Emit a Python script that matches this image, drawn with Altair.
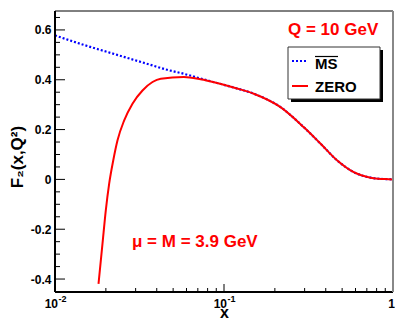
import altair as alt
import pandas as pd

# ---- data ----
ms_x = [0.01, 0.0148, 0.0233, 0.0367, 0.0461, 0.0578, 0.0726, 0.091,
        0.118, 0.15, 0.216, 0.296, 0.373, 0.468, 0.586, 0.736, 0.85, 0.944, 1.0]
ms_y = [0.578, 0.54, 0.50, 0.46, 0.44, 0.424, 0.405, 0.387,
        0.366, 0.344, 0.29, 0.21, 0.143, 0.076, 0.029, 0.007, 0.002, 0.001, 0.0]

zero_x = [0.01809, 0.0191, 0.01998, 0.02092, 0.02211, 0.02344, 0.02567, 0.02874,
          0.03294, 0.03775, 0.04227, 0.0578, 0.0726, 0.091, 0.118, 0.15, 0.216,
          0.296, 0.373, 0.468, 0.586, 0.736, 0.85, 0.944, 1.0]
zero_y = [-0.419, -0.258, -0.124, -0.017, 0.076, 0.157, 0.237, 0.304,
          0.357, 0.391, 0.404, 0.411, 0.402, 0.387, 0.366, 0.344, 0.29,
          0.21, 0.143, 0.076, 0.029, 0.007, 0.002, 0.001, 0.0]

y_major = [-0.4, -0.2, 0.0, 0.2, 0.4, 0.6]
y_minor = [-0.35, -0.3, -0.25, -0.15, -0.1, -0.05, 0.05, 0.1, 0.15,
           0.25, 0.3, 0.35, 0.45, 0.5, 0.55, 0.65]
x_major = [0.01, 0.1, 1.0]
x_minor = [0.02, 0.03, 0.04, 0.05, 0.06, 0.07, 0.08, 0.09,
           0.2, 0.3, 0.4, 0.5, 0.6, 0.7, 0.8, 0.9]
x_pow_pos = [0.01, 0.1]
x_pow_base = ["10", "10"]
x_pow_exp = ["-2", "-1"]
x_one_pos = [1.0]
x_one_lab = ["1"]

FONT = "Liberation Sans"
W, H = 338, 281

xs = alt.Scale(type="log", domain=[0.01, 1.0], nice=False)
ys = alt.Scale(domain=[-0.452, 0.676], nice=False, zero=False)

ms_df = pd.DataFrame({"x": ms_x, "y": ms_y})
zero_df = pd.DataFrame({"x": zero_x, "y": zero_y})

x_axis = alt.Axis(values=x_major, ticks=False, domain=False, grid=False, labels=False,
                  title="x", titleFont=FONT, titleFontWeight="bold", titleFontSize=16,
                  titleY=25, titleBaseline="alphabetic", titleColor="black")
y_axis = alt.Axis(values=y_major, ticks=False, domain=False, grid=False,
                  labelExpr="'' + round(datum.value * 10) / 10",
                  labelFont=FONT, labelFontWeight="bold", labelFontSize=12,
                  labelPadding=4, labelColor="black",
                  title="F₂(x,Q²)", titleFont=FONT, titleFontWeight="bold", titleFontSize=17,
                  titleX=-38, titleY=H / 2 + 5, titleAngle=270, titleAlign="center",
                  titleBaseline="middle", titleColor="black")

ms_line = alt.Chart(ms_df).mark_line(
    color="#0000ff", strokeWidth=2.2, strokeDash=[2, 2], interpolate="monotone"
).encode(x=alt.X("x:Q", scale=xs, axis=x_axis), y=alt.Y("y:Q", scale=ys, axis=y_axis))

zero_line = alt.Chart(zero_df).mark_line(
    color="#ff0000", strokeWidth=2, interpolate="monotone"
).encode(x=alt.X("x:Q", scale=xs), y=alt.Y("y:Q", scale=ys))

# x tick labels: 10^n as base + superscript, and "1"
pow_df = pd.DataFrame({"v": x_pow_pos, "base": x_pow_base, "exp": x_pow_exp})
base_txt = alt.Chart(pow_df).mark_text(align="right", baseline="alphabetic", dx=3,
                                       font=FONT, fontWeight="bold", fontSize=12,
                                       color="black").encode(
    x=alt.X("v:Q", scale=xs), y=alt.value(H + 16), text="base:N")
exp_txt = alt.Chart(pow_df).mark_text(align="left", baseline="alphabetic", dx=3.5,
                                      font=FONT, fontWeight="bold", fontSize=9,
                                      color="black").encode(
    x=alt.X("v:Q", scale=xs), y=alt.value(H + 10), text="exp:N")
one_txt = alt.Chart(pd.DataFrame({"v": x_one_pos, "t": x_one_lab})).mark_text(
    align="center", baseline="alphabetic", dx=-1.5, font=FONT, fontWeight="bold",
    fontSize=12, color="black").encode(
    x=alt.X("v:Q", scale=xs), y=alt.value(H + 16), text="t:N")

# inside ticks
ymaj = alt.Chart(pd.DataFrame({"v": y_major})).mark_rule(color="black", strokeWidth=1).encode(
    y=alt.Y("v:Q", scale=ys), x=alt.value(0), x2=alt.value(10))
ymin = alt.Chart(pd.DataFrame({"v": y_minor})).mark_rule(color="black", strokeWidth=1).encode(
    y=alt.Y("v:Q", scale=ys), x=alt.value(0), x2=alt.value(5))
xmaj = alt.Chart(pd.DataFrame({"v": x_major})).mark_rule(color="black", strokeWidth=1).encode(
    x=alt.X("v:Q", scale=xs), y=alt.value(H), y2=alt.value(H - 8))
xmin = alt.Chart(pd.DataFrame({"v": x_minor})).mark_rule(color="black", strokeWidth=1).encode(
    x=alt.X("v:Q", scale=xs), y=alt.value(H), y2=alt.value(H - 4))

# frame
frame_left = alt.Chart().mark_rule(color="black", strokeWidth=2).encode(
    x=alt.value(0), y=alt.value(0), y2=alt.value(H))
frame_bottom = alt.Chart().mark_rule(color="black", strokeWidth=2).encode(
    x=alt.value(0), x2=alt.value(W), y=alt.value(H))
frame_top = alt.Chart().mark_rule(color="black", strokeWidth=1).encode(
    x=alt.value(0), x2=alt.value(W), y=alt.value(0))
frame_right = alt.Chart().mark_rule(color="#888888", strokeWidth=2).encode(
    x=alt.value(W), y=alt.value(0), y2=alt.value(H))

# legend box with shadow
shadow = alt.Chart().mark_rect(color="black").encode(
    x=alt.value(236), x2=alt.value(328), y=alt.value(39), y2=alt.value(91))
box = alt.Chart().mark_rect(fill="white", stroke="#333333", strokeWidth=1).encode(
    x=alt.value(233), x2=alt.value(325), y=alt.value(36), y2=alt.value(88))
leg_ms = alt.Chart().mark_rule(color="#0000ff", strokeWidth=2, strokeDash=[2, 2]).encode(
    x=alt.value(237), x2=alt.value(252), y=alt.value(50))
leg_zero = alt.Chart().mark_rule(color="#ff0000", strokeWidth=2).encode(
    x=alt.value(237), x2=alt.value(253), y=alt.value(75))
leg_ms_txt = alt.Chart().mark_text(align="left", baseline="alphabetic", font=FONT,
                                   fontWeight="bold", fontSize=15, color="black").encode(
    x=alt.value(260), y=alt.value(58), text=alt.value("MS"))
leg_ms_bar = alt.Chart().mark_rule(color="black", strokeWidth=1.2).encode(
    x=alt.value(260), x2=alt.value(283), y=alt.value(45.5))
leg_zero_txt = alt.Chart().mark_text(align="left", baseline="alphabetic", font=FONT,
                                     fontWeight="bold", fontSize=15, color="black").encode(
    x=alt.value(260), y=alt.value(81), text=alt.value("ZERO"))

q_txt = alt.Chart().mark_text(align="left", baseline="alphabetic", font=FONT,
                              fontWeight="bold", fontSize=17, color="#ff0000").encode(
    x=alt.value(233), y=alt.value(24), text=alt.value("Q = 10 GeV"))
mu_txt = alt.Chart().mark_text(align="left", baseline="alphabetic", font=FONT,
                               fontWeight="bold", fontSize=17, color="#ff0000").encode(
    x=alt.value(77), y=alt.value(236), text=alt.value("μ = M = 3.9 GeV"))

chart = alt.layer(
    ms_line, zero_line, ymaj, ymin, xmaj, xmin,
    frame_left, frame_bottom, frame_top, frame_right,
    base_txt, exp_txt, one_txt,
    shadow, box, leg_ms, leg_zero, leg_ms_txt, leg_ms_bar, leg_zero_txt,
    q_txt, mu_txt
).properties(
    width=W, height=H,
    autosize=alt.AutoSizeParams(type="none"),
    padding={"left": 47, "top": 3, "right": 2, "bottom": 30},
    background="white",
).configure_view(stroke=None)

chart.save("out.html", embed_options={"renderer": "svg", "actions": False})
